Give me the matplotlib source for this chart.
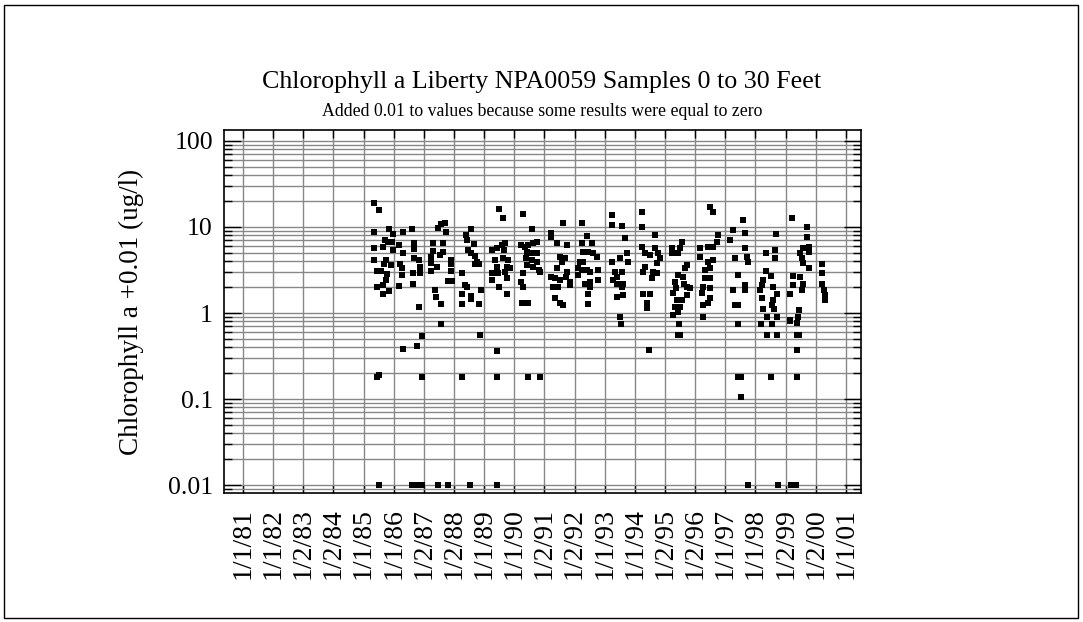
import numpy as np
import matplotlib
matplotlib.use('Agg')
import matplotlib.pyplot as plt
from matplotlib.ticker import FixedLocator, LogLocator, NullFormatter, FuncFormatter
from matplotlib.patches import Rectangle

# sample dates (decimal years) and chlorophyll a + 0.01 (ug/l)
dates = [
    # 1985
    1985.34, 1985.51, 1985.34, 1985.84, 1985.98, 1985.71, 1985.81, 1985.94, 1985.34, 1985.64,
    1985.98, 1985.34, 1985.74, 1985.68, 1985.44, 1985.58, 1985.78, 1985.44, 1985.64, 1985.84,
    1985.64, 1985.44, 1985.51, 1985.91, 1985.74,
    # 1986
    1986.31, 1986.61, 1986.17, 1986.31, 1986.67, 1986.67, 1986.21, 1986.27, 1986.27, 1986.67,
    1986.84, 1986.87, 1986.64, 1986.87, 1986.17, 1986.64, 1986.84, 1986.94, 1986.77, 1986.31,
    1986.94,
    # 1987
    1987.57, 1987.70, 1987.47, 1987.73, 1987.30, 1987.63, 1987.30, 1987.63, 1987.24, 1987.53,
    1987.24, 1987.43, 1987.24, 1987.90, 1987.90, 1987.90, 1987.80, 1987.93, 1987.37, 1987.40,
    1987.57, 1987.57,
    # 1988
    1988.56, 1988.40, 1988.43, 1988.66, 1988.46, 1988.56, 1988.69, 1988.76, 1988.83, 1988.69,
    1988.26, 1988.36, 1988.43, 1988.89, 1988.26, 1988.56, 1988.56, 1988.26, 1988.83, 1988.86,
    1988.26,
    # 1989
    1989.49, 1989.62, 1989.26, 1989.42, 1989.59, 1989.69, 1989.66, 1989.36, 1989.42, 1989.62,
    1989.79, 1989.76, 1989.86, 1989.26, 1989.46, 1989.69, 1989.26, 1989.76, 1989.49, 1989.76,
    1989.42, 1989.42,
    # 1990
    1990.29, 1990.59, 1990.22, 1990.35, 1990.45, 1990.62, 1990.75, 1990.42, 1990.59, 1990.75,
    1990.39, 1990.59, 1990.75, 1990.42, 1990.62, 1990.82, 1990.85, 1990.29, 1990.22, 1990.29,
    1990.25, 1990.45, 1990.45, 1990.85,
    # 1991
    1991.22, 1991.22, 1991.61, 1991.41, 1991.75, 1991.51, 1991.68, 1991.58, 1991.41, 1991.75,
    1991.22, 1991.35, 1991.51, 1991.71, 1991.84, 1991.84, 1991.28, 1991.45, 1991.35, 1991.51,
    1991.61,
    # 1992
    1992.24, 1992.41, 1992.24, 1992.58, 1992.28, 1992.44, 1992.61, 1992.74, 1992.18, 1992.28,
    1992.11, 1992.24, 1992.41, 1992.51, 1992.11, 1992.77, 1992.34, 1992.51, 1992.77, 1992.51,
    1992.44, 1992.44,
    # 1993
    1993.24, 1993.24, 1993.57, 1993.67, 1993.24, 1993.34, 1993.40, 1993.27, 1993.40, 1993.40,
    1993.50, 1993.74, 1993.77, 1993.57, 1993.60, 1993.57, 1993.60, 1993.50, 1993.54,
    # 1994
    1994.23, 1994.23, 1994.66, 1994.23, 1994.33, 1994.50, 1994.66, 1994.76, 1994.83, 1994.73,
    1994.33, 1994.27, 1994.60, 1994.57, 1994.73, 1994.27, 1994.50, 1994.40, 1994.40, 1994.47,
    # 1995
    1995.23, 1995.23, 1995.56, 1995.49, 1995.43, 1995.73, 1995.66, 1995.43, 1995.59, 1995.33,
    1995.73, 1995.83, 1995.26, 1995.73, 1995.39, 1995.56, 1995.33, 1995.49, 1995.43, 1995.26,
    1995.46, 1995.43, 1995.49, 1995.36, 1995.63,
    # 1996
    1996.49, 1996.59, 1996.75, 1996.72, 1996.59, 1996.42, 1996.16, 1996.16, 1996.42, 1996.59,
    1996.32, 1996.49, 1996.32, 1996.49, 1996.26, 1996.49, 1996.22, 1996.49, 1996.26, 1996.42,
    1996.26,
    # 1997
    1997.58, 1997.25, 1997.15, 1997.65, 1997.65, 1997.72, 1997.32, 1997.75, 1997.42, 1997.65,
    1997.65, 1997.25, 1997.32, 1997.42, 1997.42, 1997.42, 1997.52, 1997.52,
    # 1998
    1998.67, 1998.34, 1998.64, 1998.64, 1998.34, 1998.51, 1998.24, 1998.21, 1998.57, 1998.15,
    1998.71, 1998.21, 1998.57, 1998.54, 1998.24, 1998.60, 1998.39, 1998.71, 1998.18, 1998.54,
    1998.39, 1998.71, 1998.51,
    # 1999
    1999.21, 1999.71, 1999.71, 1999.77, 1999.77, 1999.57, 1999.47, 1999.54, 1999.57, 1999.77,
    1999.24, 1999.47, 1999.57, 1999.24, 1999.54, 1999.14, 1999.44, 1999.41, 1999.14, 1999.37,
    1999.37, 1999.44, 1999.37, 1999.14, 1999.37,
    # 2000
    2000.20, 2000.20, 2000.20, 2000.27, 2000.30, 2000.30,
]

chla = [
    # 1985
    19.0, 15.8, 8.7, 9.5, 8.3, 7.1, 6.7, 6.7, 5.7, 5.9,
    5.4, 4.1, 4.1, 3.7, 3.1, 3.1, 2.84, 2.0, 2.1, 1.8,
    1.66, 0.18, 0.19, 3.6, 2.4,
    # 1986
    8.7, 9.5, 6.2, 5.0, 6.5, 5.5, 3.7, 3.3, 2.77, 4.4,
    4.1, 3.4, 2.9, 2.9, 2.06, 2.2, 1.17, 0.54, 0.41, 0.38,
    0.18,
    # 1987
    10.8, 11.1, 9.7, 8.7, 6.5, 6.5, 5.3, 5.1, 4.5, 4.7,
    3.8, 3.4, 3.1, 4.1, 3.7, 3.1, 2.36, 2.36, 1.85, 1.53,
    1.27, 0.74,
    # 1988
    9.5, 8.1, 7.1, 6.3, 5.4, 5.0, 4.6, 3.9, 3.7, 3.7,
    2.9, 2.1, 2.0, 1.85, 1.66, 1.58, 1.45, 1.27, 1.27, 0.55,
    0.18,
    # 1989
    16.2, 12.7, 5.4, 5.7, 6.2, 6.5, 5.4, 4.1, 3.4, 4.4,
    4.1, 3.4, 3.3, 2.9, 2.9, 3.0, 2.4, 2.55, 2.0, 1.66,
    0.36, 0.18,
    # 1990
    14.2, 9.5, 6.2, 5.9, 6.2, 6.5, 6.7, 5.1, 5.0, 5.0,
    4.4, 4.1, 3.9, 3.6, 3.4, 3.2, 3.0, 2.9, 2.3, 2.0,
    1.3, 1.3, 0.18, 0.18,
    # 1991
    8.5, 7.7, 11.1, 6.5, 6.2, 4.5, 4.4, 3.9, 3.3, 3.0,
    2.6, 2.55, 2.4, 2.6, 2.3, 2.1, 2.0, 2.0, 1.5, 1.3,
    1.24,
    # 1992
    11.1, 7.9, 6.5, 6.5, 5.1, 5.1, 5.0, 4.5, 3.9, 3.9,
    3.3, 3.2, 3.2, 3.0, 2.77, 3.2, 2.2, 2.3, 2.4, 2.0,
    1.66, 1.27,
    # 1993
    13.8, 10.6, 10.3, 7.4, 3.9, 3.0, 2.6, 2.4, 2.2, 1.53,
    4.4, 5.0, 3.9, 3.0, 2.2, 2.0, 1.6, 0.9, 0.74,
    # 1994
    14.9, 10.0, 8.1, 5.9, 5.0, 4.7, 5.7, 5.0, 4.4, 3.8,
    3.4, 3.0, 3.0, 2.55, 2.9, 1.66, 1.66, 1.3, 1.14, 0.37,
    # 1995
    5.7, 5.0, 6.7, 5.7, 5.0, 3.6, 3.3, 2.77, 2.6, 2.3,
    2.0, 1.95, 1.7, 1.6, 1.4, 1.4, 1.17, 1.17, 1.03, 0.95,
    0.74, 0.55, 0.55, 1.95, 2.2,
    # 1996
    17.1, 14.9, 8.1, 6.7, 5.9, 5.9, 5.7, 4.5, 3.9, 4.1,
    3.2, 3.3, 2.55, 2.55, 2.0, 1.95, 1.7, 1.5, 1.24, 1.3,
    0.9,
    # 1997
    12.1, 9.2, 7.1, 8.5, 5.7, 4.5, 4.4, 3.9, 2.77, 2.1,
    1.85, 1.85, 1.24, 1.24, 0.74, 0.18, 0.18, 0.105,
    # 1998
    8.3, 5.0, 5.4, 4.4, 3.1, 2.7, 2.4, 2.1, 2.0, 1.85,
    1.66, 1.5, 1.4, 1.24, 1.11, 1.11, 0.9, 0.9, 0.74, 0.74,
    0.55, 0.55, 0.18,
    # 1999
    12.7, 10.0, 7.7, 5.9, 5.1, 5.7, 5.0, 4.4, 3.8, 3.3,
    2.7, 2.6, 2.2, 2.1, 1.85, 1.66, 1.08, 0.9, 0.83, 0.77,
    0.55, 0.55, 0.37, 0.81, 0.18,
    # 2000
    3.7, 2.9, 2.17, 1.85, 1.6, 1.4,
]

# results reported as zero (plotted as 0 + 0.01)
zero_dates = [1985.51, 1986.61, 1986.70, 1986.80, 1986.94, 1987.47, 1987.80,
              1988.53, 1989.42, 1997.75, 1998.74, 1999.18, 1999.34]
zero_chla = [0.01] * len(zero_dates)

tick_years = list(range(1981, 2002))
tick_labels = ['1/1/81', '1/1/82', '1/2/83', '1/2/84', '1/1/85', '1/1/86', '1/2/87',
               '1/2/88', '1/1/89', '1/1/90', '1/2/91', '1/2/92', '1/1/93', '1/1/94',
               '1/2/95', '1/2/96', '1/1/97', '1/1/98', '1/2/99', '1/2/00', '1/1/01']

plt.rcParams['font.family'] = ['Liberation Serif', 'DejaVu Serif']

fig = plt.figure(figsize=(10.83, 6.22), dpi=100)
ax = fig.add_axes([224/1083, 1-493/622, (861-224)/1083, (493-130)/622])

ax.scatter(dates, chla, marker='s', s=14, color='black', linewidths=0, zorder=3)
ax.scatter(zero_dates, zero_chla, marker='s', s=14, color='black', linewidths=0, zorder=3)

ax.set_yscale('log')
ax.set_ylim(0.0081, 134)
ax.set_xlim(1980.37, 2001.5)

ax.yaxis.set_major_locator(FixedLocator([0.01, 0.1, 1, 10, 100]))
ax.yaxis.set_major_formatter(FuncFormatter(lambda v, p: '%g' % v))
ax.yaxis.set_minor_locator(LogLocator(base=10, subs=np.arange(2, 10)))
ax.yaxis.set_minor_formatter(NullFormatter())

ax.set_xticks(tick_years)
ax.set_xticklabels(tick_labels, rotation=90, fontsize=20)
ax.tick_params(axis='y', which='major', labelsize=18.5, direction='in', length=12, width=1,
               left=True, right=True, pad=8)
ax.tick_params(axis='y', which='minor', direction='in', length=6, width=1, left=True, right=True)
ax.tick_params(axis='x', which='major', direction='in', length=6, width=1, top=True, bottom=True, pad=11)

ax.grid(True, which='major', axis='both', color='#888888', linewidth=1)
ax.grid(True, which='minor', axis='y', color='#888888', linewidth=1)
ax.set_axisbelow(True)
for sp in ax.spines.values():
    sp.set_linewidth(1.2)

ax.set_ylabel('Chlorophyll a +0.01 (ug/l)', fontsize=19.5, labelpad=17)

fig.text(542/1083, 1-82/622, 'Chlorophyll a Liberty NPA0059 Samples 0 to 30 Feet',
         ha='center', va='center', fontsize=18.7)
fig.text(542/1083, 1-112/622, 'Added 0.01 to values because some results were equal to zero',
         ha='center', va='center', fontsize=12.8)

fig.patches.append(Rectangle((4/1083, 4/622), 1074/1083, 613/622, transform=fig.transFigure,
                             fill=False, edgecolor='black', linewidth=1))

fig.savefig('out.png', dpi=100)
